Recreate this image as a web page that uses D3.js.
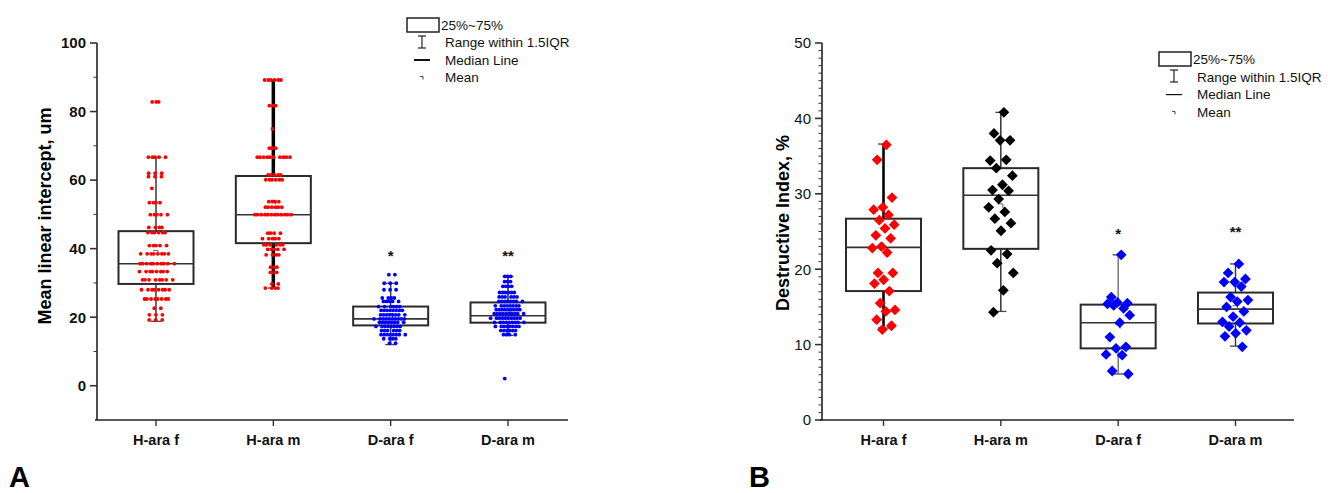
<!DOCTYPE html>
<html>
<head>
<meta charset="utf-8">
<script src="https://cdn.jsdelivr.net/npm/d3@7"></script>
<style>
  html, body { margin: 0; padding: 0; background: #fff; }
  svg { display: block; font-family: "Liberation Sans", Arial, sans-serif; }
</style>
</head>
<body>
<svg id="chart" width="1328" height="493"></svg>
<script>
// ---------- data ----------
const categories = ["H-ara f", "H-ara m", "D-ara f", "D-ara m"];

// helper: expand [value, count] rows into a flat list
function rows(list) { const out = []; list.forEach(([v, n]) => { for (let i = 0; i < n; i++) out.push(v); }); return out; }

// Panel A: mean linear intercept (um), individual measurements
const miHAraF = rows([[82.8,3],[66.7,5],[62.0,3],[61.0,3],[57.6,1],[53.4,4],[49.9,5],[46.2,4],[44.7,6],[40.9,5],[38.5,8],[35.6,10],[33.3,8],[30.9,8],[28.0,8],[25.3,8],[22.6,2],[20.7,3],[19.2,3]]);
const miHAraM = rows([[89.2,6],[81.7,3],[74.9,1],[69.3,3],[66.7,10],[61.5,5],[60.1,6],[53.7,4],[52.1,6],[49.9,12],[44.5,4],[42.9,5],[41.1,6],[39.8,5],[38.2,4],[34.6,3],[33.1,3],[29.7,2],[28.5,4]]);
const miDAraF = rows([[32.4,2],[29.9,3],[28.0,3],[25.6,4],[24.6,5],[23.1,6],[22.0,8],[20.7,8],[19.5,10],[18.5,8],[17.3,8],[16.1,6],[14.9,8],[13.7,4],[12.4,2]]);
const miDAraM = rows([[31.9,3],[30.4,3],[29.0,4],[27.2,6],[25.9,6],[24.6,8],[23.3,8],[22.2,9],[21.0,10],[19.7,10],[18.5,9],[17.3,8],[16.1,6],[14.9,4],[2.1,1]]);

// Panel A box summaries: [whiskerLow, q1, median, q3, whiskerHigh, mean]
const boxHAraF_A = [18.8, 29.7, 35.6, 45.1, 66.7, 38.9];
const boxHAraM_A = [28.5, 41.6, 49.9, 61.2, 89.2, 53.5];
const boxDAraF_A = [12.0, 17.6, 19.5, 23.1, 29.9, 20.4];
const boxDAraM_A = [14.7, 18.4, 20.4, 24.3, 31.9, 21.3];

// Panel B: destructive index (%)
const diHAraF = [36.5, 34.5, 29.5, 28.2, 27.9, 27.2, 26.5, 25.9, 25.4, 24.5, 24.1, 23.0, 22.8, 22.2, 19.5, 19.5, 18.6, 18.1, 17.1, 15.5, 14.6, 14.4, 13.3, 12.5, 12.0];
const diHAraM = [40.8, 38.0, 37.1, 37.1, 34.4, 34.5, 33.4, 32.4, 31.2, 30.5, 30.4, 29.3, 28.2, 27.6, 26.7, 26.1, 25.1, 22.5, 22.0, 20.8, 19.5, 17.2, 14.3];
const diDAraF = [21.9, 16.3, 15.5, 15.6, 15.4, 14.8, 15.2, 13.9, 12.9, 11.0, 9.7, 9.5, 8.7, 8.6, 6.5, 6.1];
const diDAraM = [20.7, 19.5, 18.7, 18.3, 18.3, 17.7, 16.3, 15.9, 15.7, 15.0, 14.4, 13.7, 13.0, 12.9, 12.4, 11.9, 11.5, 11.1, 9.7];

// Panel B box summaries: [whiskerLow, q1, median, q3, whiskerHigh, mean]
const boxHAraF_B = [12.2, 17.1, 22.9, 26.7, 36.6, 22.4];
const boxHAraM_B = [14.4, 22.7, 29.8, 33.4, 40.8, 28.4];
const boxDAraF_B = [6.1, 9.5, 12.9, 15.3, 21.9, 12.4];
const boxDAraM_B = [9.8, 12.8, 14.7, 16.9, 20.7, 14.9];

const sigMarks = ["", "", "*", "**"];
const yTicksA = [0, 20, 40, 60, 80, 100];
const yTicksB = [0, 10, 20, 30, 40, 50];

// ---------- drawing ----------
const svg = d3.select("#chart");

// small deterministic scatter used to break up overlapping markers
function wobble(i) { return (((i + 1) * 0.6180339887) % 1) - 0.5; }

// horizontal offsets: points sharing a value are laid side by side (row mode),
// otherwise a plain spread around the category centre
function offsets(pts, mode, amount, extra) {
  if (mode === "row") {
    const seen = new Map(), counts = d3.rollup(pts, v => v.length, d => d);
    return pts.map((v, j) => {
      const k = seen.get(v) || 0; seen.set(v, k + 1);
      const n = counts.get(v);
      return (k - (n - 1) / 2) * amount + wobble(j * 7 + 3) * extra;
    });
  }
  return pts.map((v, j) => wobble(j) * 2 * amount);
}

function drawPanel(cfg) {
  const g = svg.append("g");
  const x = d3.scalePoint().domain(categories).range(cfg.xRange);
  const y = d3.scaleLinear().domain(cfg.yDomain).range([cfg.yBottom, cfg.yTop]);
  const ax = cfg.axisX, axEnd = cfg.axisXEnd, ay = cfg.yBottom;

  // y axis line + ticks
  g.append("line").attr("x1", ax).attr("x2", ax).attr("y1", cfg.yTop).attr("y2", ay)
    .attr("stroke", "#222").attr("stroke-width", 1.6);
  d3.range(cfg.yDomain[0], cfg.yDomain[1] + 0.001, cfg.minorStep).forEach(v => {
    const major = cfg.majorTicks.includes(Math.round(v * 100) / 100);
    if (v === cfg.yDomain[0] && !major) return;
    g.append("line").attr("x1", ax).attr("x2", ax - (major ? 7 : 3.5))
      .attr("y1", y(v)).attr("y2", y(v))
      .attr("stroke", "#333").attr("stroke-width", major ? 1.6 : 1);
  });
  cfg.majorTicks.forEach(v => {
    g.append("text").attr("x", ax - 11).attr("y", y(v)).attr("dy", "0.36em")
      .attr("text-anchor", "end").attr("font-size", 15)
      .attr("font-weight", cfg.tickBold ? "bold" : "normal")
      .attr("fill", "#111").text(v);
  });
  // y title
  g.append("text")
    .attr("transform", `translate(${cfg.titleX},${cfg.titleY}) rotate(-90)`)
    .attr("text-anchor", "middle").attr("font-size", 18).attr("font-weight", "bold")
    .attr("fill", "#000").text(cfg.yTitle);

  // x axis
  g.append("line").attr("x1", ax - 2).attr("x2", axEnd).attr("y1", ay).attr("y2", ay)
    .attr("stroke", "#222").attr("stroke-width", 1.6);
  categories.forEach(c => {
    g.append("line").attr("x1", x(c)).attr("x2", x(c)).attr("y1", ay).attr("y2", ay + 6)
      .attr("stroke", "#333").attr("stroke-width", 1.4);
    g.append("text").attr("x", x(c)).attr("y", ay + 25).attr("text-anchor", "middle")
      .attr("font-size", 14.5).attr("font-weight", "bold").attr("fill", "#111").text(c);
  });

  // boxes
  const bw = 75;
  cfg.boxes.forEach((b, i) => {
    const cx = x(categories[i]);
    const [lo, q1, med, q3, hi, mean] = b;
    const ws = cfg.whiskerStyle[i];
    g.append("line").attr("x1", cx).attr("x2", cx).attr("y1", y(hi)).attr("y2", y(q3))
      .attr("stroke", ws[0]).attr("stroke-width", ws[1]);
    g.append("line").attr("x1", cx).attr("x2", cx).attr("y1", y(q1)).attr("y2", y(lo))
      .attr("stroke", ws[0]).attr("stroke-width", ws[1]);
    [lo, hi].forEach(v => {
      g.append("line").attr("x1", cx - 5.5).attr("x2", cx + 5.5).attr("y1", y(v)).attr("y2", y(v))
        .attr("stroke", "#444").attr("stroke-width", 1.3);
    });
    g.append("rect").attr("x", cx - bw / 2).attr("y", y(q3)).attr("width", bw)
      .attr("height", y(q1) - y(q3)).attr("fill", "none")
      .attr("stroke", "#2a2a2a").attr("stroke-width", 2);
    g.append("line").attr("x1", cx - bw / 2).attr("x2", cx + bw / 2)
      .attr("y1", y(med)).attr("y2", y(med)).attr("stroke", "#333").attr("stroke-width", 1.6);
    // mean marker
    g.append("path").attr("d", `M${cx - 3},${y(mean) - 2}h5v4`)
      .attr("fill", "none").attr("stroke", "#666").attr("stroke-width", 1);
  });

  // points
  cfg.points.forEach((pts, i) => {
    const cx = x(categories[i]);
    const offs = offsets(pts, cfg.jitterMode, cfg.spread[i], cfg.extra || 0);
    pts.forEach((v, j) => {
      const px = cx + offs[j];
      if (cfg.diamond) {
        g.append("path").attr("d", d3.symbol().type(d3.symbolSquare).size(58)())
          .attr("transform", `translate(${px},${y(v)}) rotate(45)`)
          .attr("fill", cfg.colors[i]);
      } else {
        g.append("circle").attr("cx", px).attr("cy", y(v)).attr("r", 1.9)
          .attr("fill", cfg.colors[i]);
      }
    });
  });

  // significance marks
  sigMarks.forEach((s, i) => {
    if (!s) return;
    g.append("text").attr("x", x(categories[i])).attr("y", y(cfg.sigAt[i]))
      .attr("text-anchor", "middle").attr("font-size", 15).attr("font-weight", "bold")
      .attr("fill", "#111").text(s);
  });

  // legend
  const L = cfg.legend;
  g.append("rect").attr("x", L.x).attr("y", L.y).attr("width", 32).attr("height", 14)
    .attr("fill", "none").attr("stroke", "#222").attr("stroke-width", 1.5);
  const ix = L.x + 15;
  g.append("line").attr("x1", ix).attr("x2", ix).attr("y1", L.y + 18).attr("y2", L.y + 30).attr("stroke", "#222").attr("stroke-width", 1.2);
  g.append("line").attr("x1", ix - 4).attr("x2", ix + 4).attr("y1", L.y + 18).attr("y2", L.y + 18).attr("stroke", "#222").attr("stroke-width", 1.2);
  g.append("line").attr("x1", ix - 4).attr("x2", ix + 4).attr("y1", L.y + 30).attr("y2", L.y + 30).attr("stroke", "#222").attr("stroke-width", 1.2);
  g.append("line").attr("x1", ix - 8).attr("x2", ix + 8).attr("y1", L.y + L.dy * 2 + 7).attr("y2", L.y + L.dy * 2 + 7)
    .attr("stroke", "#111").attr("stroke-width", L.medW);
  g.append("path").attr("d", `M${ix - 2},${L.y + L.dy * 3 + 6}h3v3`).attr("fill", "none").attr("stroke", "#444").attr("stroke-width", 1);
  ["25%~75%", "Range within 1.5IQR", "Median Line", "Mean"].forEach((t, k) => {
    g.append("text").attr("x", k === 0 ? L.x + 34 : L.x + 38).attr("y", L.y + 7 + k * L.dy)
      .attr("dy", "0.35em").attr("font-size", 13.5).attr("fill", "#111").text(t);
  });

  // panel letter
  g.append("text").attr("x", cfg.letterX).attr("y", 487)
    .attr("font-family", "'Liberation Sans Narrow', 'Arial Narrow', 'Liberation Sans', sans-serif")
    .attr("font-size", 29).attr("font-weight", "bold").attr("fill", "#000").text(cfg.letter);
}

drawPanel({
  xRange: [156, 508], axisX: 97, axisXEnd: 568,
  yDomain: [-10, 100], yTop: 43, yBottom: 420, minorStep: 10,
  majorTicks: yTicksA, tickBold: true,
  yTitle: "Mean linear intercept, um", titleX: 51, titleY: 216,
  boxes: [boxHAraF_A, boxHAraM_A, boxDAraF_A, boxDAraM_A],
  whiskerStyle: [["#444", 1.6], ["#000", 3.5], ["#444", 1.5], ["#333", 1.6]],
  points: [miHAraF, miHAraM, miDAraF, miDAraM],
  colors: ["#ff0000", "#ff0000", "#0000ff", "#0000ff"],
  jitterMode: "row", spread: [3.6, 3.4, 3.1, 3.0], extra: 9, diamond: false,
  sigAt: [0, 0, 36.5, 36.5],
  legend: { x: 407, y: 18, dy: 17.5, medW: 2 },
  letter: "A", letterX: 9
});

drawPanel({
  xRange: [883.5, 1235.5], axisX: 822, axisXEnd: 1294,
  yDomain: [0, 50], yTop: 43, yBottom: 420, minorStep: 1,
  majorTicks: yTicksB, tickBold: false,
  yTitle: "Destructive Index, %", titleX: 789, titleY: 223,
  boxes: [boxHAraF_B, boxHAraM_B, boxDAraF_B, boxDAraM_B],
  whiskerStyle: [["#000", 2.6], ["#222", 1.4], ["#555", 1.2], ["#333", 1.4]],
  points: [diHAraF, diHAraM, diDAraF, diDAraM],
  colors: ["#ff0000", "#000000", "#0000ff", "#0000ff"],
  jitterMode: "spread", spread: [12, 13, 13, 14], diamond: true,
  sigAt: [0, 0, 24.0, 24.3],
  legend: { x: 1159, y: 52, dy: 17.8, medW: 1.2 },
  letter: "B", letterX: 749
});
</script>
</body>
</html>
